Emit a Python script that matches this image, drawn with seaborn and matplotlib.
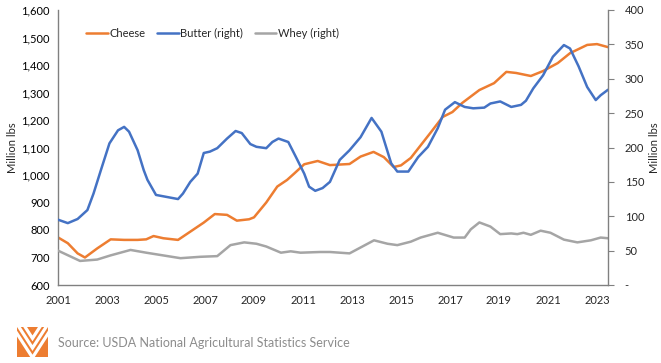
import pandas as pd
import matplotlib.pyplot as plt
import matplotlib.ticker as mticker
import seaborn as sns

# Readings taken off the reference chart (year, value)
cheese_years = [2001.0, 2001.4, 2001.8, 2002.1, 2002.6, 2003.15, 2003.7, 2004.25, 2004.6,
                2004.9, 2005.3, 2005.9, 2006.4, 2006.95, 2007.4, 2007.9, 2008.3, 2008.8,
                2009.0, 2009.5, 2009.95, 2010.35, 2010.65, 2011.05, 2011.6, 2012.1, 2012.9,
                2013.35, 2013.88, 2014.3, 2014.7, 2015.0, 2015.4, 2016.2, 2016.7, 2017.1,
                2017.5, 2018.2, 2018.8, 2019.3, 2019.7, 2020.3, 2020.8, 2021.4, 2021.9,
                2022.6, 2023.0, 2023.45]
cheese_vals = [773, 752, 715, 700, 733, 766, 764, 764, 766,
               778, 770, 764, 794, 827, 858, 855, 834, 839,
               846, 900, 958, 982, 1006, 1039, 1051, 1036, 1040,
               1067, 1084, 1065, 1029, 1035, 1062, 1153, 1211, 1229,
               1262, 1309, 1334, 1375, 1371, 1360, 1378, 1407, 1443,
               1473, 1476, 1465]

butter_years = [2001.0, 2001.4, 2001.8, 2002.2, 2002.45, 2002.75, 2003.1, 2003.45, 2003.7,
                2003.9, 2004.25, 2004.5, 2004.65, 2005.0, 2005.3, 2005.9, 2006.1, 2006.4,
                2006.7, 2006.95, 2007.2, 2007.5, 2007.9, 2008.25, 2008.5, 2008.85, 2009.1,
                2009.5, 2009.75, 2010.0, 2010.4, 2010.7, 2011.05, 2011.25, 2011.5, 2011.8,
                2012.1, 2012.5, 2012.9, 2013.35, 2013.8, 2014.2, 2014.6, 2014.85, 2015.3,
                2015.7, 2016.1, 2016.5, 2016.8, 2017.2, 2017.6, 2017.95, 2018.4, 2018.65,
                2019.05, 2019.5, 2019.9, 2020.1, 2020.4, 2020.8, 2021.2, 2021.65, 2021.9,
                2022.25, 2022.6, 2022.95, 2023.15, 2023.45]
butter_vals = [95, 90, 96, 109, 133, 167, 206, 225, 230,
               223, 196, 167, 153, 131, 129, 125, 133, 150,
               162, 192, 194, 199, 213, 224, 221, 205, 201,
               199, 208, 213, 208, 187, 162, 143, 137, 141,
               150, 182, 196, 215, 243, 223, 177, 165, 165,
               186, 201, 228, 255, 266, 259, 257, 258, 264,
               267, 259, 262, 268, 286, 305, 332, 349, 344,
               318, 288, 269, 276, 284]

whey_years = [2001.0, 2001.9, 2002.6, 2003.14, 2003.96, 2004.6, 2005.3, 2006.0, 2006.8,
              2007.5, 2008.04, 2008.6, 2009.1, 2009.5, 2010.1, 2010.5, 2010.9, 2011.7,
              2012.1, 2012.9, 2013.9, 2014.45, 2014.85, 2015.4, 2015.8, 2016.5, 2017.15,
              2017.6, 2017.85, 2018.2, 2018.65, 2019.05, 2019.5, 2019.75, 2020.0, 2020.3,
              2020.7, 2021.1, 2021.65, 2022.2, 2022.75, 2023.15, 2023.45]
whey_vals = [50, 35, 37, 43, 51, 47, 43, 39, 41,
             42, 58, 62, 60, 56, 47, 49, 47, 48,
             48, 46, 65, 60, 58, 63, 69, 76, 69,
             69, 81, 91, 85, 74, 75, 74, 76, 73,
             79, 76, 66, 62, 65, 69, 68]

left_ticks = [600, 700, 800, 900, 1000, 1100, 1200, 1300, 1400, 1500, 1600]
right_ticks = [0, 50, 100, 150, 200, 250, 300, 350, 400]
year_ticks = list(range(2001, 2024))

cheese = pd.DataFrame({'year': cheese_years, 'value': cheese_vals})
butter = pd.DataFrame({'year': butter_years, 'value': butter_vals})
whey = pd.DataFrame({'year': whey_years, 'value': whey_vals})

sns.set_style("white")
plt.rcParams['font.family'] = ['Lato', 'DejaVu Sans']

W, H = 661, 363
fig = plt.figure(figsize=(W / 100, H / 100), dpi=100)
ax = fig.add_axes([58 / W, 1 - 285 / H, 550 / W, 275 / H])
ax2 = ax.twinx()

orange, blue, grey = '#ED7D31', '#4472C4', '#A5A5A5'
lw = 1.8
sns.lineplot(data=cheese, x='year', y='value', ax=ax, color=orange, linewidth=lw, label='Cheese')
sns.lineplot(data=butter, x='year', y='value', ax=ax2, color=blue, linewidth=lw, label='Butter (right)')
sns.lineplot(data=whey, x='year', y='value', ax=ax2, color=grey, linewidth=lw, label='Whey (right)')

ax.set_xlim(2001, 2023.45)
ax.set_ylim(600, 1600)
ax2.set_ylim(0, 400)
ax.set_yticks(left_ticks)
ax2.set_yticks(right_ticks)
ax.yaxis.set_major_formatter(mticker.FuncFormatter(lambda v, p: f"{v:,.0f}"))
ax2.yaxis.set_major_formatter(mticker.FuncFormatter(lambda v, p: '-' if v == 0 else f"{v:.0f}"))
ax.set_xticks(year_ticks)
ax.set_xticklabels([str(y) if (y - 2001) % 2 == 0 else '' for y in year_ticks])

spine_col = '#808080'
for a in (ax, ax2):
    for s in a.spines.values():
        s.set_visible(False)
    a.set_xlabel('')
ax.spines['left'].set_visible(True)
ax.spines['bottom'].set_visible(True)
ax2.spines['right'].set_visible(True)
for s in (ax.spines['left'], ax.spines['bottom'], ax2.spines['right']):
    s.set_color(spine_col)
    s.set_linewidth(1.0)

ax.tick_params(axis='y', length=0, labelsize=8, pad=6, colors='black')
ax.tick_params(axis='x', length=4, width=0.8, color=spine_col, labelsize=8, pad=3)
ax2.tick_params(axis='y', length=4, width=0.8, color=spine_col, labelsize=8, pad=8)

ax.set_ylabel('Million lbs', fontsize=8)
ax.yaxis.set_label_coords(-40 / 550, 0.5)
ax2.set_ylabel('Million lbs', fontsize=8)
ax2.yaxis.set_label_coords(1 + 41 / 550, 0.5)

h1, l1 = ax.get_legend_handles_labels()
h2, l2 = ax2.get_legend_handles_labels()
ax2.get_legend().remove()
ax.get_legend().remove()
fig.legend(h1 + h2, l1 + l2, loc='center left', bbox_to_anchor=(82 / W, 1 - 33 / H),
           ncol=3, frameon=False, fontsize=8, handlelength=1.9, handletextpad=0.15,
           columnspacing=1.1, borderaxespad=0)

# source line and logo
fig.text(58 / W, 1 - 343 / H, 'Source: USDA National Agricultural Statistics Service',
         fontsize=9, color='#8C8C8C', va='center', ha='left')
logo = fig.add_axes([17 / W, 1 - 357 / H, 31 / W, 30 / H])
logo.set_xlim(0, 1)
logo.set_ylim(0, 1)
logo.axis('off')
logo.add_patch(plt.Rectangle((0, 0), 1, 1, color=orange, clip_on=True))
for vtx in (0.62, 0.30, -0.02):
    logo.plot([-0.2, 0.5, 1.2], [vtx + 1.12, vtx, vtx + 1.12], color='white',
              linewidth=2.3, solid_joinstyle='miter', clip_on=True)

fig.savefig('out.png', dpi=100)
